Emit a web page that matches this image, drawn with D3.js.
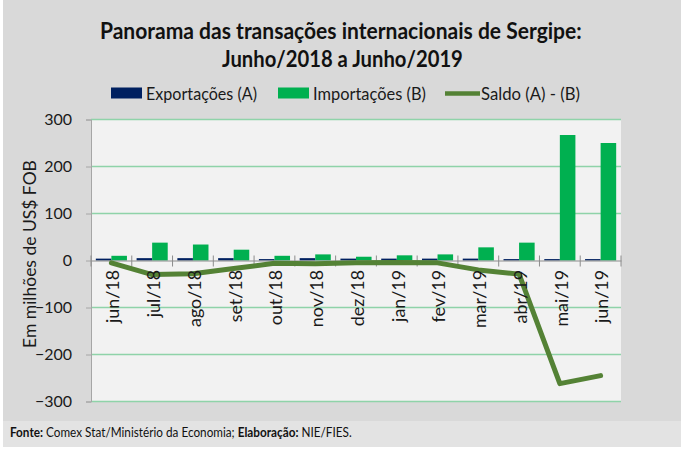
<!DOCTYPE html>
<html><head><meta charset="utf-8">
<script src="https://cdn.jsdelivr.net/npm/d3@7"></script>
<style>html,body{margin:0;padding:0;background:#fff;}svg{display:block;font-family:Lato,"Open Sans",sans-serif;}</style>
</head><body>
<svg id="c" width="681" height="450"></svg>
<script>
const months = ["jun/18","jul/18","ago/18","set/18","out/18","nov/18","dez/18","jan/19","fev/19","mar/19","abr/19","mai/19","jun/19"];
const exportacoes = [4,5,5,5,3,5,4,4,4,4,3,3,3];
const importacoes = [10,38,34,23,10,13,8,11,13,28,38,267,250];
const saldo = [-5,-30,-28,-17,-6,-7,-5,-4,-5,-20,-29,-262,-245];
const yTicks = [-300,-200,-100,0,100,200,300];
const seriesNames = ["Exportações (A)","Importações (B)","Saldo (A) - (B)"];
const titleLines = ["Panorama  das transações internacionais de Sergipe:","Junho/2018 a Junho/2019"];

const colExp = "#002060", colImp = "#00b050", colSaldo = "#548235", colGrid = "#8fd3a9";
const svg = d3.select("#c");

// backgrounds
svg.append("rect").attr("x",3).attr("y",0).attr("width",678).attr("height",421).attr("fill","#d9d9d9");
svg.append("rect").attr("x",3).attr("y",421).attr("width",678).attr("height",26).attr("fill","#e3e3e3");

const left = 91, right = 621;
const x0 = d3.scaleBand().domain(months).range([left,right]).padding(0);
const x1 = d3.scaleBand().domain(["exp","imp"]).range([0,x0.bandwidth()]).paddingInner(0).paddingOuter(0.31);
const y = d3.scaleLinear().domain([-300,300]).range([401.5,119.5]);

svg.append("rect").attr("x",left).attr("y",y(300)).attr("width",right-left).attr("height",y(-300)-y(300)).attr("fill","#f2f2f2");

// gridlines
svg.append("g").selectAll("line").data(yTicks.filter(d=>d!==0)).join("line")
  .attr("x1",left).attr("x2",right).attr("y1",d=>y(d)).attr("y2",d=>y(d))
  .attr("stroke",colGrid).attr("stroke-width",1.6);

// y axis
const yAxis = d3.axisLeft(y).tickValues(yTicks).tickSize(5).tickPadding(13).tickFormat(d3.format("d"));
const gy = svg.append("g").attr("transform",`translate(${left},0)`).call(yAxis);
gy.select(".domain").attr("stroke","#a6a6a6");
gy.selectAll(".tick line").attr("stroke","#a6a6a6");
gy.selectAll(".tick text").attr("font-family","Lato").attr("font-size",16).attr("fill","#1a1a1a").attr("dx",-1);

// bars
const bars = svg.append("g");
months.forEach((m,i)=>{
  bars.append("rect").attr("x",x0(m)+x1("exp")).attr("width",x1.bandwidth())
    .attr("y",y(Math.max(0,exportacoes[i]))).attr("height",Math.abs(y(exportacoes[i])-y(0))).attr("fill",colExp);
  bars.append("rect").attr("x",x0(m)+x1("imp")).attr("width",x1.bandwidth())
    .attr("y",y(Math.max(0,importacoes[i]))).attr("height",Math.abs(y(importacoes[i])-y(0))).attr("fill",colImp);
});

// x axis at zero
const xAxis = d3.axisBottom(x0).tickSize(0).tickFormat("");
const gx = svg.append("g").attr("transform",`translate(0,${y(0)})`).call(xAxis);
gx.select(".domain").attr("stroke","#8c8c8c");
const bounds = months.map(m=>x0(m)).concat([right]);
svg.append("g").selectAll("line").data(bounds).join("line")
  .attr("x1",d=>d).attr("x2",d=>d).attr("y1",y(0)-5).attr("y2",y(0)+6).attr("stroke","#8c8c8c");

// saldo line
const line = d3.line().x((d,i)=>x0(months[i])+x0.bandwidth()/2).y(d=>y(d));
svg.append("path").datum(saldo).attr("d",line).attr("fill","none").attr("stroke",colSaldo)
  .attr("stroke-width",5).attr("stroke-linejoin","round").attr("stroke-linecap","round");

// x labels rotated
const xl = svg.append("g").selectAll("text").data(months).join("text")
  .text(d=>d).attr("font-family","Lato").attr("font-size",17).attr("fill","#1a1a1a")
  .attr("text-anchor","end").attr("dominant-baseline","central");
let ref = xl.nodes()[0].getComputedTextLength();
const sx = 53/ref;
xl.attr("transform",d=>`translate(${x0(d)+x0.bandwidth()/2+1.5},270) rotate(-90) scale(${sx},1)`);

// helper to fit text width
function fit(t, x, w, yb){
  const bw = t.node().getBBox().width;
  t.attr("transform",`translate(${x},${yb}) scale(${w/bw},1)`);
}

// title
const t1 = svg.append("text").text(titleLines[0]).attr("font-weight","bold").attr("font-size",23).attr("fill","#111");
fit(t1,100,482,39.3);
const t2 = svg.append("text").text(titleLines[1]).attr("font-weight","bold").attr("font-size",23).attr("fill","#111");
fit(t2,222,241,66.7);

// legend
const lg = svg.append("g");
lg.append("rect").attr("x",111).attr("y",87.5).attr("width",31).attr("height",11).attr("fill",colExp);
lg.append("rect").attr("x",278).attr("y",87.5).attr("width",31).attr("height",11).attr("fill",colImp);
lg.append("line").attr("x1",445).attr("x2",480).attr("y1",93.5).attr("y2",93.5).attr("stroke",colSaldo).attr("stroke-width",4.5);
const legPos = [[146,111],[313,113],[481,99]];
seriesNames.forEach((n,i)=>{
  const t = lg.append("text").text(n).attr("font-size",18).attr("fill","#1a1a1a");
  fit(t,legPos[i][0],legPos[i][1],99.5);
});

// y title
const yt = svg.append("text").text("Em milhões de US$ FOB").attr("font-size",17.5).attr("fill","#1a1a1a").attr("text-anchor","middle");
const ytw = yt.node().getComputedTextLength();
yt.attr("transform",`translate(36,254) rotate(-90) scale(${188/ytw},1)`);

// source
const src = svg.append("text").attr("font-size",12.5).attr("fill","#111");
src.append("tspan").attr("font-weight","bold").text("Fonte:");
src.append("tspan").text(" Comex Stat/Ministério da Economia; ");
src.append("tspan").attr("font-weight","bold").text("Elaboração:");
src.append("tspan").text(" NIE/FIES.");
fit(src,10,342,437);
</script>
</body></html>
